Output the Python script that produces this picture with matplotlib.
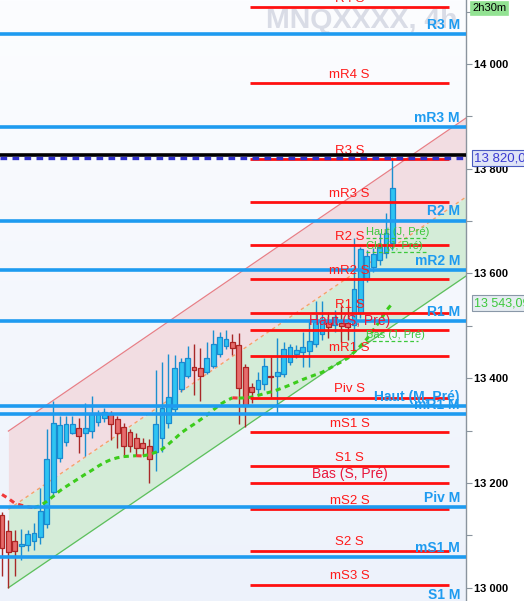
import matplotlib
matplotlib.use("Agg")
import matplotlib.pyplot as plt
import numpy as np

plt.rcParams['font.family'] = ['Liberation Sans', 'DejaVu Sans']

# ---------------- data ----------------
opens = [13138.8, 13108.2, 13088.6, 13079.6, 13081.0, 13089.7, 13097.4, 13121.0, 13183.3, 13248.2,
         13278.7, 13296.0, 13304.3, 13296.0, 13299.7, 13315.8, 13323.4, 13331.0, 13321.5, 13307.4,
         13297.8, 13285.2, 13275.7, 13270.5, 13258.5, 13285.2, 13313.9, 13340.6, 13380.0, 13404.7,
         13421.9, 13418.9, 13412.4, 13423.8, 13445.6, 13462.0, 13468.5, 13463.3, 13420.8, 13384.0,
         13378.8, 13388.3, 13405.0, 13404.7, 13407.4, 13431.5, 13446.1, 13450.0, 13452.8, 13465.2,
         13483.8, 13507.0, 13501.5, 13504.8, 13504.8, 13501.5, 13523.8, 13591.8, 13612.8, 13625.6,
         13638.4, 13657.5]
highs = [13144.0, 13129.2, 13110.2, 13112.0, 13110.0, 13123.0, 13190.9, 13303.0, 13357.0, 13328.4,
         13328.0, 13328.0, 13324.5, 13352.0, 13366.0, 13339.0, 13343.0, 13337.0, 13328.0, 13314.4,
         13303.0, 13295.0, 13285.8, 13284.0, 13415.6, 13431.5, 13446.0, 13444.0, 13438.5, 13461.4,
         13465.0, 13457.0, 13468.5, 13492.0, 13487.6, 13492.0, 13484.3, 13485.7, 13427.0, 13390.8,
         13412.4, 13438.0, 13439.8, 13476.0, 13469.6, 13465.2, 13463.3, 13488.7, 13512.4, 13547.0,
         13547.7, 13527.0, 13530.0, 13537.8, 13539.7, 13667.0, 13650.4, 13644.7, 13648.5, 13676.6,
         13716.0, 13822.0]
lows = [13022.0, 12999.4, 13022.3, 13052.9, 13070.0, 13072.0, 13083.4, 13114.0, 13177.0, 13240.0,
        13270.5, 13293.0, 13257.7, 13251.4, 13286.4, 13308.7, 13316.0, 13282.0, 13266.7, 13250.0,
        13259.0, 13251.0, 13253.0, 13199.3, 13223.4, 13259.6, 13305.0, 13335.0, 13373.6, 13400.0,
        13367.9, 13357.0, 13408.0, 13419.0, 13440.0, 13455.0, 13444.2, 13312.5, 13307.4, 13352.0,
        13367.9, 13377.4, 13364.6, 13333.0, 13402.0, 13425.0, 13438.0, 13421.9, 13420.8, 13459.5,
        13473.8, 13476.0, 13488.0, 13469.6, 13472.9, 13453.8, 13515.0, 13583.6, 13602.7, 13616.0,
        13628.9, 13644.7]
closes = [13075.8, 13068.7, 13070.6, 13083.4, 13102.0, 13103.9, 13146.4, 13245.7, 13313.9, 13310.0,
          13312.0, 13312.0, 13290.2, 13304.3, 13331.0, 13331.0, 13336.0, 13312.0, 13294.8, 13270.5,
          13270.5, 13266.1, 13266.1, 13245.1, 13312.0, 13343.6, 13364.6, 13418.9, 13430.3, 13439.0,
          13415.6, 13404.7, 13437.9, 13464.7, 13479.2, 13474.2, 13457.0, 13380.3, 13346.9, 13372.7,
          13396.5, 13423.8, 13402.8, 13411.2, 13455.1, 13458.9, 13453.8, 13459.0, 13471.0, 13507.8,
          13507.2, 13497.7, 13516.8, 13498.7, 13497.7, 13569.7, 13646.0, 13633.2, 13636.5, 13651.0,
          13676.6, 13762.5]

ma_values = [13177.9, 13170.3, 13161.3, 13157.5, 13154.6, 13152.7, 13156.9, 13164.9, 13174.5, 13184.6,
             13193.0, 13200.8, 13208.7, 13216.5, 13223.9, 13231.8, 13239.0, 13244.4, 13248.0, 13250.3,
             13251.2, 13252.0, 13251.5, 13254.3, 13258.5, 13264.2, 13274.0, 13284.5, 13295.5, 13304.3,
             13312.1, 13320.7, 13329.5, 13339.2, 13349.2, 13356.8, 13362.5, 13362.0, 13362.4, 13363.9,
             13367.1, 13370.6, 13373.8, 13377.6, 13382.2, 13387.0, 13392.3, 13397.5, 13402.2, 13406.6,
             13411.2, 13417.5, 13424.4, 13431.1, 13438.1, 13449.2, 13461.4, 13474.8, 13491.6, 13508.6,
             13528.2, 13543.09]

# monthly levels (blue)
month_names = ["R3 M", "mR3 M", "R2 M", "mR2 M", "R1 M", "Haut (M, Pré)", "mR1 M", "Piv M", "mS1 M", "S1 M"]
month_values = [14057, 13879.5, 13701, 13606.5, 13509, 13347.5, 13331.6, 13153.5, 13058, 12968]

# weekly levels (red)
week_names = ["R4 S", "mR4 S", "R3 S", "mR3 S", "R2 S", "mR2 S", "R1 S", "Haut (S, Pré)", "mR1 S",
              "Piv S", "mS1 S", "S1 S", "Bas (S, Pré)", "mS2 S", "S2 S", "mS3 S"]
week_values = [14109, 13964, 13818, 13737, 13655, 13590, 13525, 13492.6, 13443,
               13363, 13298, 13233, 13200, 13150, 13071, 13006]

# daily levels (green)
day_names = ["Haut (J, Pré)", "Clo (J, Pré)", "Bas (J, Pré)"]
day_values = [13667, 13641, 13471]

# regression channel endpoints
chan_x = [1, 72.5]
chan_upper = [13299, 13896.7]
chan_lower = [13000, 13595]

black_level = 13826
order_level = 13820.00
ma_last = 13543.09

yticks_major = [13000, 13200, 13400, 13600, 13800, 14000]
yticks_minor = [13100, 13300, 13500, 13700, 13900, 14100]

# ---------------- figure ----------------
W, H = 524, 601
fig = plt.figure(figsize=(W / 100, H / 100), dpi=100)
fig.patch.set_facecolor('white')
ax = fig.add_axes([0, 0, 466 / W, 1])

XMIN, XMAX = -0.3125, 72.5
YMIN, YMAX = 12974.6, 14122
ax.set_xlim(XMIN, XMAX)
ax.set_ylim(YMIN, YMAX)

# background gradient
grad = np.linspace(0, 1, 256).reshape(-1, 1)
c_top = np.array([252, 253, 255]) / 255
c_bot = np.array([237, 242, 251]) / 255
img = c_top[None, None, :] * (1 - grad[:, :, None]) + c_bot[None, None, :] * grad[:, :, None]
ax.imshow(img, extent=[0, 1, 0, 1], transform=ax.transAxes, aspect='auto', zorder=0)

# watermark
ax.text(457 / 466, 1 - 28 / H, "MNQXXXX, 4h", transform=ax.transAxes, ha='right', va='baseline',
        fontsize=20.5, fontweight='bold', color='#d9dce6', zorder=1)

# channel
chan_mid = [(u + lo) / 2 for u, lo in zip(chan_upper, chan_lower)]
ax.fill_between(chan_x, chan_mid, chan_upper, color='#f2dde2', zorder=1, lw=0)
ax.fill_between(chan_x, chan_lower, chan_mid, color='#d4ecd8', zorder=1, lw=0)
ax.plot(chan_x, chan_upper, color='#e87f86', lw=0.9, zorder=2)
ax.plot(chan_x, chan_lower, color='#5cbf5c', lw=0.9, zorder=2)
ax.plot(chan_x, chan_mid, color='#f5a36a', lw=1.0, ls=(0, (2.5, 2.5)), zorder=2)

# candles
idx = np.arange(len(opens))
o = np.array(opens); c = np.array(closes); h = np.array(highs); l = np.array(lows)
up = c >= o
body_bottom = np.minimum(o, c)
body_h = np.maximum(np.abs(c - o), 0.8)
ax.vlines(idx[up], l[up], h[up], color='#1a8fd0', lw=1.0, zorder=4)
ax.vlines(idx[~up], l[~up], h[~up], color='#a82828', lw=1.0, zorder=4)
ax.bar(idx[up], body_h[up], bottom=body_bottom[up], width=0.72, color='#2ec4f2',
       edgecolor='#1a8ad0', lw=0.9, zorder=5)
ax.bar(idx[~up], body_h[~up], bottom=body_bottom[~up], width=0.72, color='#e66c6c',
       edgecolor='#ad2424', lw=0.9, zorder=5)

# moving average, colored by direction (continuous runs per colour)
ma = np.array(ma_values)
rising = np.diff(ma) >= 0
start = 0
for i in range(1, len(rising) + 1):
    if i == len(rising) or rising[i] != rising[start]:
        col = '#3ccc1c' if rising[start] else '#f03a3a'
        xs = np.arange(start, i + 1)
        ax.plot(xs, ma[start:i + 1], color=col, lw=2.2, ls=(0, (1.7, 1.4)),
                zorder=6, dash_capstyle='butt')
        start = i

# weekly levels
wx0, wx1 = 38.75, 69.84
wxc = 54.3
for name, v in zip(week_names, week_values):
    ax.plot([wx0, wx1], [v, v], color='#ff1010', lw=2.0, zorder=7, solid_capstyle='butt')
    col = '#e8173c' if 'Pré' in name else '#ff1a1a'
    fs = 10 if 'Pré' in name else 9.5
    ax.annotate(name, (wxc, v), xytext=(0, 1.5), textcoords='offset points', ha='center',
                va='bottom', fontsize=fs, color=col, zorder=9, annotation_clip=False)

# monthly levels
for name, v in zip(month_names, month_values):
    ax.axhline(v, color='#1e9bf0', lw=2.6, zorder=7)
    ax.annotate(name, (71.56, v), xytext=(0, 1.5), textcoords='offset points', ha='right',
                va='bottom', fontsize=10, fontweight='bold', color='#1e9bf0', zorder=9,
                annotation_clip=False)

# daily levels
for name, v in zip(day_names, day_values):
    x1 = 66.25 if name != "Bas (J, Pré)" else 65.0
    ax.plot([56.9, x1], [v, v], color='#3cc83c', lw=0.9, ls=(0, (3, 2)), zorder=8)
    ax.annotate(name, (56.9, v), xytext=(0, 1), textcoords='offset points', ha='left',
                va='bottom', fontsize=8, color='#3cc83c', zorder=9)

# black and order lines
ax.axhline(black_level, color='black', lw=2.6, zorder=10)
ax.axhline(order_level, color='#3232cc', lw=2.4, ls=(0, (2.0, 1.6)), zorder=10)

# axes styling
for s in ['top', 'left', 'bottom']:
    ax.spines[s].set_visible(False)
ax.spines['right'].set_color('#8a949e')
ax.spines['right'].set_linewidth(1.0)
ax.set_xticks([])
ax.yaxis.tick_right()
ax.set_yticks(yticks_major)
ax.set_yticklabels([f"{v:,}".replace(",", " ") for v in yticks_major])
ax.set_yticks(yticks_minor, minor=True)
ax.tick_params(axis='y', which='both', direction='out', length=4, width=0.8, color='#8a949e',
               labelsize=8, labelcolor='black', pad=2)
for t in ax.get_yticklabels():
    t.set_fontweight('bold')

# price labels on axis
ax.text(1.017, order_level, "13 820,00", transform=ax.get_yaxis_transform(), ha='left', va='center',
        fontsize=9.5, color='#3a3ad2', zorder=20, clip_on=False,
        bbox=dict(boxstyle='square,pad=0.15', fc='#dfe4f6', ec='#4a5cc0', lw=0.8))
ax.text(1.017, ma_last, "13 543,09", transform=ax.get_yaxis_transform(), ha='left', va='center',
        fontsize=9, color='#3cc83c', zorder=20, clip_on=False,
        bbox=dict(boxstyle='square,pad=0.15', fc='#e6ecf2', ec='#8a98a8', lw=0.8))
fig.text(472 / W, 1 - 8 / H, "2h30m", ha='left', va='center', fontsize=8, color='black',
         bbox=dict(boxstyle='square,pad=0.2', fc='#92e292', ec='#92e292', lw=0.5))

fig.savefig("out.png", dpi=100)
